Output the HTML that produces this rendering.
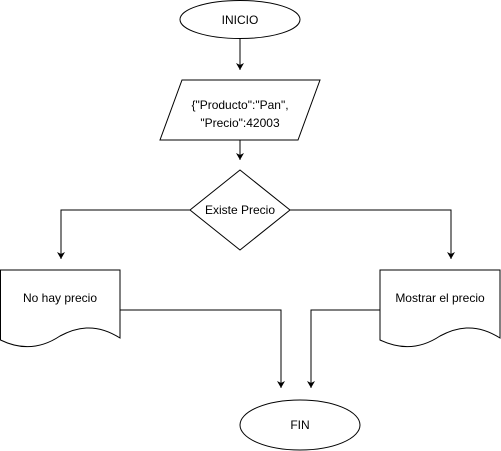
<!DOCTYPE html>
<html><head><style>body{margin:0;background:#fff}svg{display:block}text{font-family:"Liberation Sans",sans-serif;font-size:12px;fill:#000}</style></head>
<body>
<svg width="501" height="451" viewBox="0 0 501 451">
<defs><marker id="a" markerWidth="8" markerHeight="8" refX="7" refY="4" orient="auto" markerUnits="userSpaceOnUse"><path d="M0,0 L7,4 L0,8 L2,4 Z" fill="#000"/></marker></defs>
<g fill="#fff" stroke="#000" stroke-width="1">
<ellipse cx="240" cy="19.5" rx="60" ry="19"/>
<path d="M182 80 H320 L298 140 H160 Z"/>
<path d="M240 170 L290 210 L240 250 L190 210 Z"/>
<path d="M0.5 270 H120 V338 C95 322 75 328 60 336 C45 346 25 352 0.5 340 Z"/>
<path d="M380 270 H500 V338 C475 322 455 328 440 336 C425 346 405 352 380 340 Z"/>
<ellipse cx="300" cy="425" rx="60" ry="25"/>
</g>
<g fill="none" stroke="#000" stroke-width="1">
<path d="M240 39 V70" marker-end="url(#a)"/>
<path d="M240 140 V160" marker-end="url(#a)"/>
<path d="M190 210 H61 V259" marker-end="url(#a)"/>
<path d="M290 210 H451 V259" marker-end="url(#a)"/>
<path d="M120 310 H281 V388" marker-end="url(#a)"/>
<path d="M380 310 H311 V388" marker-end="url(#a)"/>
</g>
<g text-anchor="middle">
<text x="240" y="24">INICIO</text>
<text x="240" y="109">{"Producto":"Pan",</text>
<text x="240" y="127">"Precio":42003</text>
<text x="240" y="214">Existe Precio</text>
<text x="60" y="302">No hay precio</text>
<text x="440" y="302">Mostrar el precio</text>
<text x="300" y="429">FIN</text>
</g>
</svg>
</body></html>
